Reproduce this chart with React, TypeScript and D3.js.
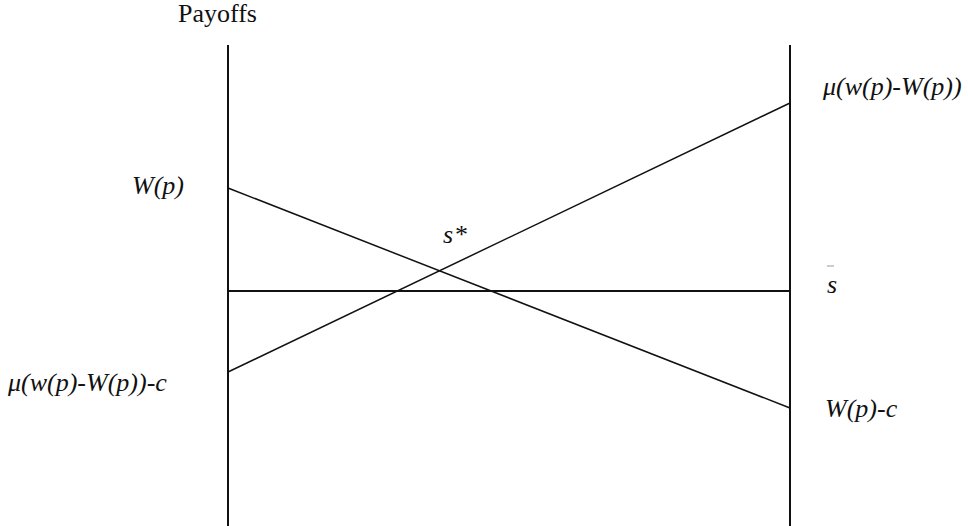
import React from "react";
import * as d3 from "d3";

// Strategy variable s spans the two vertical axes (left = 0, right = 1)
const sPositions = [0, 1];
// Payoff values (arbitrary units) at the left and right axes
const wSeries = [1.03, -1.17]; // W(p) -> W(p)-c
const muSeries = [-0.81, 1.88]; // μ(w(p)-W(p))-c -> μ(w(p)-W(p))
const sBarSeries = [0, 0]; // horizontal s̄ level
const axisRange = [-2.35, 2.46];

const W = 968;
const H = 526;

export default function App() {
  const x = d3.scaleLinear().domain([0, 1]).range([228, 790]);
  const y = d3.scaleLinear().domain([-2.35, 2.46]).range([526, 45]);
  const line = d3
    .line<number>()
    .x((_, i) => x(sPositions[i]))
    .y((d) => y(d));

  const font = '"Liberation Serif", "Times New Roman", Times, serif';
  const ink = "#111";

  return (
    <svg
      width={W}
      height={H}
      style={{ position: "absolute", left: 0, top: 0, background: "#fff" }}
    >
      <rect width={W} height={H} fill="#fff" />
      {sPositions.map((s, i) => (
        <line
          key={i}
          x1={x(s)}
          x2={x(s)}
          y1={y(axisRange[1])}
          y2={y(axisRange[0])}
          stroke={ink}
          strokeWidth={2}
        />
      ))}
      <path d={line(sBarSeries) || ""} stroke={ink} strokeWidth={2} fill="none" />
      <path d={line(wSeries) || ""} stroke={ink} strokeWidth={1.5} fill="none" />
      <path d={line(muSeries) || ""} stroke={ink} strokeWidth={1.5} fill="none" />

      <g style={{ fontFamily: font, fontSize: "26px" }} fill={ink}>
        <text x={178} y={22}>
          Payoffs
        </text>
        <g style={{ fontStyle: "italic" }}>
          <text x={132} y={y(wSeries[0]) + 6}>
            W(p)
          </text>
          <text x={8} y={y(muSeries[0]) + 19}>
            μ(w(p)-W(p))-c
          </text>
          <text x={823} y={y(muSeries[1]) - 8}>
            μ(w(p)-W(p))
          </text>
          <text x={825} y={y(wSeries[1]) + 9}>
            W(p)-c
          </text>
          <text x={827} y={y(sBarSeries[1]) + 2}>s</text>
          <text x={443} y={243}>s</text>
        </g>
        <text x={455} y={243}>*</text>
        <line x1={827} x2={834} y1={266} y2={266} stroke="#999" strokeWidth={1} />
      </g>
    </svg>
  );
}
